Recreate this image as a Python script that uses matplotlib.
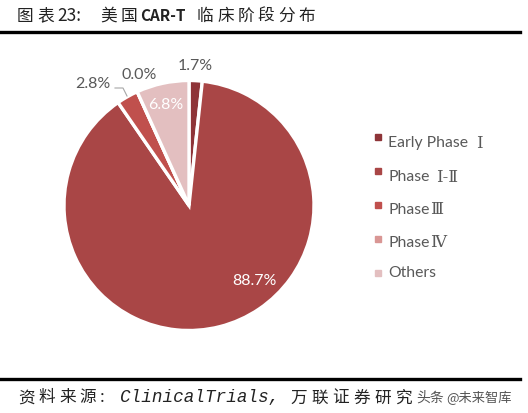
import matplotlib
matplotlib.use('Agg')
import matplotlib.pyplot as plt
from matplotlib.lines import Line2D

# Dados do gráfico
categorias = ['Early Phase ', 'Phase ', 'Phase', 'Phase', 'Others']
numerais = ['Ⅰ', 'Ⅰ-Ⅱ', 'Ⅲ', 'Ⅳ', '']
valores = [1.7, 88.7, 2.8, 0.0, 6.8]
rotulos = ['1.7%', '88.7%', '2.8%', '0.0%', '6.8%']
cores = ['#8E3438', '#A94646', '#C0504D', '#D99694', '#E3BFC0']

CJK = ['Noto Sans CJK SC', 'DejaVu Sans']
LEGENDA = ['Lato', 'Noto Sans CJK SC', 'DejaVu Sans']
PRETO = '#222222'
CINZA = '#595959'

fig = plt.figure(figsize=(5.28, 4.14), dpi=100)
ax = fig.add_axes([0, 0, 1, 1])


def espacado(texto, x0, passo, y, tam, **kw):
    """Escreve caractere por caractere, com passo fixo."""
    for i, c in enumerate(texto):
        ax.text(x0 + passo * i, y, c, fontsize=tam, va='center', **kw)


# Pizza em coordenadas de pixel
ax.pie(valores, colors=cores, startangle=90, counterclock=False, normalize=True,
       radius=125, center=(189, 207.5),
       wedgeprops={'edgecolor': 'white', 'linewidth': 2.4})
ax.set_xlim(0, 528)
ax.set_ylim(0, 414)
ax.set_aspect('equal')
ax.axis('off')

# Título e linhas
espacado('图表', 17, 20.3, 398, 12, family=CJK, color=PRETO, weight='light')
ax.text(57, 398, '23:', fontsize=12.5, family=CJK, color=PRETO, va='center')
espacado('美国', 100, 21, 398, 12, family=CJK, color=PRETO, weight='light')
ax.text(140, 398, 'CAR-T', fontsize=11, family=CJK, weight='bold', color=PRETO, va='center')
espacado('临床阶段分布', 197, 20.3, 398, 12, family=CJK, color=PRETO, weight='light')
ax.add_line(Line2D([0, 520], [381.5, 381.5], color='black', lw=2.4))
ax.add_line(Line2D([0, 520], [34, 34], color='black', lw=2.4))

# Rótulos
ax.text(195, 348, rotulos[0], fontsize=11.5, family=LEGENDA, color=CINZA, ha='center', va='center')
ax.text(254, 133, rotulos[1], fontsize=11.5, family=LEGENDA, color='white', ha='center', va='center')
ax.text(93, 330, rotulos[2], fontsize=11.5, family=LEGENDA, color=CINZA, ha='center', va='center')
ax.text(139, 339, rotulos[3], fontsize=11.5, family=LEGENDA, color=CINZA, ha='center', va='center')
ax.text(166, 309, rotulos[4], fontsize=11.5, family=LEGENDA, color='white', ha='center', va='center')
ax.add_line(Line2D([115, 123, 127], [325, 325, 317], color='#A6A6A6', lw=0.8))

# Legenda
legenda_y = [271, 237, 204, 171, 141]
marcador_y = [276, 242, 208, 174, 140]
numeral_x = [476, 436, 430, 430, 0]
for nome, num, cor, y, my, nx in zip(categorias, numerais, cores, legenda_y, marcador_y, numeral_x):
    ax.plot(378, my, marker='s', ms=5, color=cor, ls='none')
    ax.text(388, y, nome.strip(), fontsize=11.3, family=LEGENDA, color=CINZA, va='center')
    if num:
        ax.text(nx, y, num, fontsize=12, family='DejaVu Serif', color=CINZA, va='center')

# Fonte
espacado('资料来源:', 18, 20.5, 16, 12, family=CJK, color=PRETO, weight='light')
ax.text(120, 16, 'ClinicalTrials,', fontsize=12.7, family='Liberation Mono', style='italic', color=PRETO, va='center')
espacado('万联证券研究', 290, 21, 16, 12, family=CJK, color=PRETO, weight='light')
ax.text(416, 16, '头条', fontsize=10, family=CJK, color='#555555', va='center')
ax.text(446, 16, '@未来智库', fontsize=9.5, family=CJK, color='#555555', va='center')

fig.savefig('out.png', dpi=100)
